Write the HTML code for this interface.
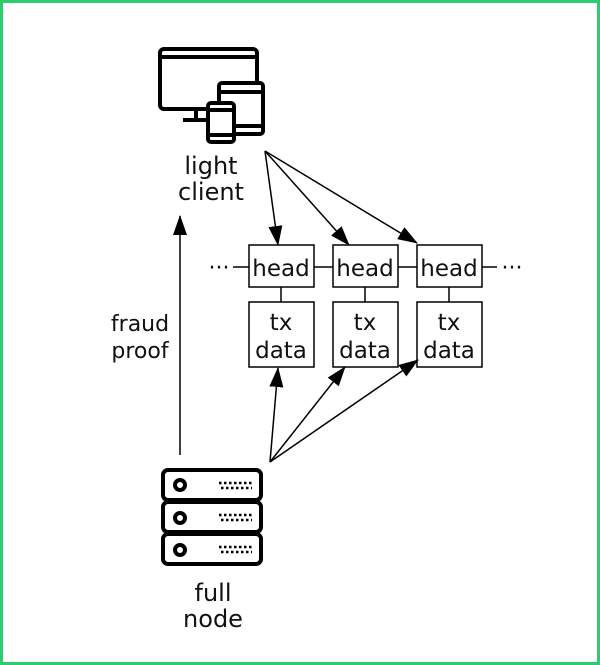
<!DOCTYPE html>
<html><head><style>
html,body{margin:0;padding:0;background:#fff;}
svg{display:block;}
text{font-family:"DejaVu Sans",sans-serif;fill:#111;}
</style></head><body>
<svg width="600" height="665" viewBox="0 0 600 665" xmlns="http://www.w3.org/2000/svg">
<defs>
<marker id="b" markerWidth="20" markerHeight="16" refX="19" refY="8" orient="auto" markerUnits="userSpaceOnUse" viewBox="0 0 20 16"><path d="M0,1 L20,8 L0,15 z" fill="#000"/></marker></defs>
<rect x="1.5" y="1.5" width="597" height="662" fill="none" stroke="#2ecc71" stroke-width="3"/>
<!-- monitor icon -->
<g fill="none" stroke="#000" stroke-width="4" stroke-linejoin="round">
<rect x="160" y="49" width="97" height="60" rx="4"/>
<line x1="162" y1="57" x2="255" y2="57"/>
<line x1="183" y1="120" x2="208" y2="120"/>
<line x1="196" y1="109" x2="196" y2="120"/>
<rect x="219" y="83" width="44" height="51" rx="3" fill="#fff"/>
<line x1="220" y1="92" x2="262" y2="92"/>
<line x1="220" y1="126" x2="262" y2="126"/>
<rect x="208" y="103" width="26" height="39" rx="3" fill="#fff"/>
<line x1="209" y1="110" x2="233" y2="110"/>
<line x1="209" y1="135" x2="233" y2="135"/>
</g>
<text x="211" y="174" font-size="24" text-anchor="middle">light</text>
<text x="211" y="200" font-size="24" text-anchor="middle">client</text>
<!-- server -->
<g fill="#fff" stroke="#000" stroke-width="4">
<rect x="163" y="470" width="98" height="30" rx="5"/>
<rect x="163" y="502" width="98" height="30" rx="5"/>
<rect x="163" y="534" width="98" height="30" rx="5"/>
<circle cx="180" cy="485" r="5"/><circle cx="180" cy="518" r="5"/><circle cx="180" cy="550" r="5"/>
</g>
<g stroke="#000" stroke-width="2.5" stroke-dasharray="2.5,2.5">
<line x1="219" y1="483" x2="252" y2="483"/><line x1="221" y1="488" x2="252" y2="488"/>
<line x1="219" y1="515" x2="252" y2="515"/><line x1="221" y1="520" x2="252" y2="520"/>
<line x1="219" y1="547" x2="252" y2="547"/><line x1="221" y1="552" x2="252" y2="552"/>
</g>
<text x="213" y="601" font-size="24" text-anchor="middle">full</text>
<text x="213" y="627" font-size="24" text-anchor="middle">node</text>
<!-- fraud proof -->
<line x1="180" y1="455" x2="180" y2="216" stroke="#000" stroke-width="1.5" marker-end="url(#b)"/>
<text x="140" y="331" font-size="22" text-anchor="middle">fraud</text>
<text x="140" y="358" font-size="22" text-anchor="middle">proof</text>
<!-- chain -->
<g stroke="#000" stroke-width="1.5" fill="none">
<line x1="233" y1="267" x2="249" y2="267"/>
<line x1="314" y1="267" x2="333" y2="267"/>
<line x1="398" y1="267" x2="417" y2="267"/>
<line x1="482" y1="267" x2="497" y2="267"/>
<rect x="249" y="245" width="65" height="42" fill="#fff"/>
<rect x="333" y="245" width="65" height="42" fill="#fff"/>
<rect x="417" y="245" width="65" height="42" fill="#fff"/>
<line x1="281" y1="287" x2="281" y2="302"/>
<line x1="365" y1="287" x2="365" y2="302"/>
<line x1="449" y1="287" x2="449" y2="302"/>
<rect x="249" y="302" width="65" height="65" fill="#fff"/>
<rect x="333" y="302" width="65" height="65" fill="#fff"/>
<rect x="417" y="302" width="65" height="65" fill="#fff"/>
</g>
<text x="219" y="275" font-size="22" text-anchor="middle">···</text>
<text x="512" y="275" font-size="22" text-anchor="middle">···</text>
<g font-size="23" text-anchor="middle">
<text x="281" y="276">head</text><text x="365" y="276">head</text><text x="449" y="276">head</text>
<text x="281" y="330">tx</text><text x="365" y="330">tx</text><text x="449" y="330">tx</text>
<text x="281" y="358">data</text><text x="365" y="358">data</text><text x="449" y="358">data</text>
</g>
<!-- arrows -->
<g stroke="#000" stroke-width="1.5" marker-end="url(#b)">
<line x1="265" y1="151" x2="278" y2="245"/>
<line x1="265" y1="151" x2="349" y2="245"/>
<line x1="265" y1="151" x2="417" y2="243"/>
<line x1="270" y1="462" x2="278" y2="368"/>
<line x1="270" y1="462" x2="345" y2="367"/>
<line x1="270" y1="462" x2="418" y2="360"/>
</g>
</svg>
</body></html>
